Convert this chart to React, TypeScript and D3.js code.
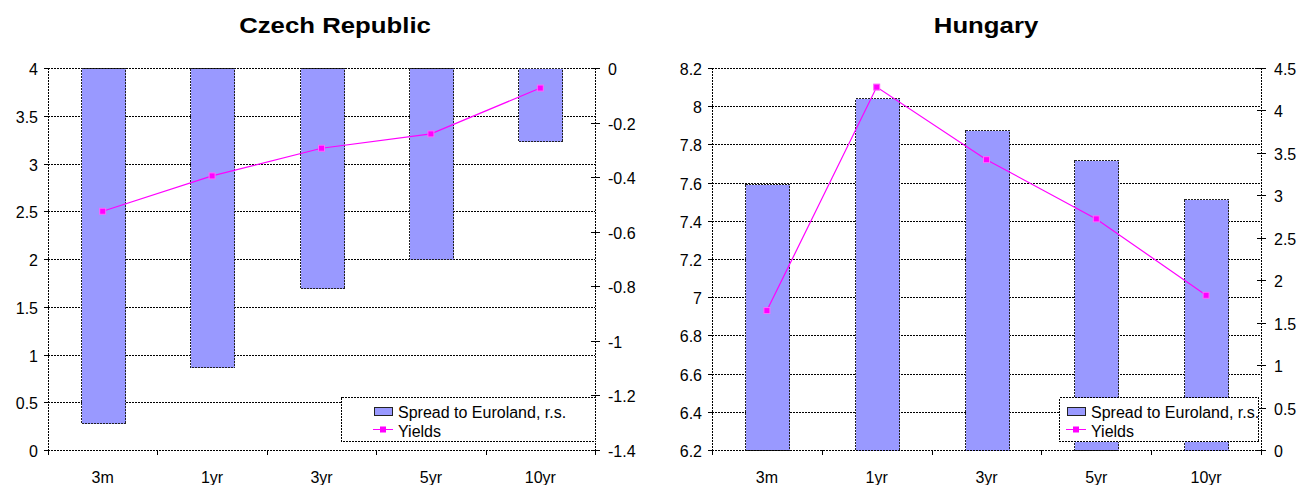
import { useRef, useEffect } from "react";
import * as d3 from "d3";

const categories = ["3m", "1yr", "3yr", "5yr", "10yr"];

const czechSpread = [-1.3, -1.096, -0.806, -0.7, -0.267];
const czechYields = [2.5, 2.87, 3.16, 3.31, 3.79];
const czechLeftTicks = [0, 0.5, 1, 1.5, 2, 2.5, 3, 3.5, 4];
const czechRightTicks = [0, -0.2, -0.4, -0.6, -0.8, -1, -1.2, -1.4];

const hungarySpread = [3.13, 4.15, 3.77, 3.42, 2.96];
const hungaryYields = [6.93, 8.1, 7.72, 7.41, 7.01];
const hungaryLeftTicks = [6.2, 6.4, 6.6, 6.8, 7, 7.2, 7.4, 7.6, 7.8, 8, 8.2];
const hungaryRightTicks = [0, 0.5, 1, 1.5, 2, 2.5, 3, 3.5, 4, 4.5];

const FONT = "'Liberation Sans', Arial, sans-serif";

interface PanelOpts {
  title: string;
  titleX: number;
  x0: number;
  x1: number;
  spread: number[];
  yields: number[];
  leftDomain: [number, number];
  rightDomain: [number, number];
  leftTicks: number[];
  rightTicks: number[];
  legendX: number;
  legendW: number;
  swatchX: number;
}

function drawPanel(svg: d3.Selection<SVGSVGElement, unknown, null, undefined>, o: PanelOpts) {
  const top = 68;
  const bottom = 450;
  const g = svg.append("g");

  const x = d3.scaleBand<string>().domain(categories).range([o.x0, o.x1]).padding(0);
  const yL = d3.scaleLinear().domain(o.leftDomain).range([bottom, top]);
  const yR = d3.scaleLinear().domain(o.rightDomain).range([bottom, top]);
  const barW = x.bandwidth() * 0.4;

  // title (stretched a little, like the original)
  g.append("text")
    .attr("transform", `translate(${o.titleX},33) scale(1.12,1)`)
    .attr("text-anchor", "middle")
    .attr("font-family", FONT)
    .attr("font-weight", "bold")
    .attr("font-size", 23)
    .text(o.title);

  // gridlines
  g.selectAll(".grid")
    .data(o.leftTicks)
    .join("line")
    .attr("x1", o.x0)
    .attr("x2", o.x1)
    .attr("y1", (d) => Math.round(yL(d)) + 0.5)
    .attr("y2", (d) => Math.round(yL(d)) + 0.5)
    .attr("stroke", "#000")
    .attr("stroke-dasharray", "2,1")
    .attr("shape-rendering", "crispEdges");

  // bars (right scale, from 0)
  const zero = yR(0);
  g.selectAll(".bar")
    .data(o.spread)
    .join("rect")
    .attr("x", (_, i) => Math.round(x(categories[i])! + (x.bandwidth() - barW) / 2) + 0.5)
    .attr("width", Math.round(barW))
    .attr("y", (d) => Math.round(Math.min(zero, yR(d))) + 0.5)
    .attr("height", (d) => Math.round(Math.abs(yR(d) - zero)))
    .attr("fill", "#9999ff")
    .attr("stroke", "#222")
    .attr("stroke-dasharray", "2,1")
    .attr("shape-rendering", "crispEdges");

  // left axis
  g.append("line")
    .attr("x1", o.x0 + 0.5).attr("x2", o.x0 + 0.5)
    .attr("y1", top).attr("y2", bottom)
    .attr("stroke", "#000").attr("stroke-dasharray", "2,1")
    .attr("shape-rendering", "crispEdges");
  o.leftTicks.forEach((t) => {
    const yy = Math.round(yL(t)) + 0.5;
    g.append("line").attr("x1", o.x0 - 4).attr("x2", o.x0).attr("y1", yy).attr("y2", yy).attr("stroke", "#000");
    g.append("text")
      .attr("x", o.x0 - 10)
      .attr("y", yy + 6)
      .attr("text-anchor", "end")
      .attr("font-family", FONT)
      .attr("font-size", 16)
      .text(String(t));
  });

  // right axis
  g.append("line")
    .attr("x1", o.x1 + 0.5).attr("x2", o.x1 + 0.5)
    .attr("y1", top).attr("y2", bottom)
    .attr("stroke", "#000").attr("stroke-dasharray", "2,1")
    .attr("shape-rendering", "crispEdges");
  o.rightTicks.forEach((t) => {
    const yy = Math.round(yR(t)) + 0.5;
    g.append("line").attr("x1", o.x1 - 4).attr("x2", o.x1 + 5).attr("y1", yy).attr("y2", yy).attr("stroke", "#000");
    g.append("text")
      .attr("x", o.x1 + 13)
      .attr("y", yy + 6)
      .attr("font-family", FONT)
      .attr("font-size", 16)
      .text(String(t));
  });

  // x axis
  g.append("line")
    .attr("x1", o.x0).attr("x2", o.x1)
    .attr("y1", bottom + 0.5).attr("y2", bottom + 0.5)
    .attr("stroke", "#000").attr("stroke-dasharray", "2,1")
    .attr("shape-rendering", "crispEdges");
  categories.forEach((c, i) => {
    const bx = Math.round(x(c)!) + 0.5;
    g.append("line").attr("x1", bx).attr("x2", bx).attr("y1", bottom).attr("y2", bottom + 5).attr("stroke", "#000");
    if (i === categories.length - 1) {
      g.append("line").attr("x1", o.x1 + 0.5).attr("x2", o.x1 + 0.5).attr("y1", bottom).attr("y2", bottom + 5).attr("stroke", "#000");
    }
    g.append("text")
      .attr("x", x(c)! + x.bandwidth() / 2)
      .attr("y", 483)
      .attr("text-anchor", "middle")
      .attr("font-family", FONT)
      .attr("font-size", 16)
      .text(c);
  });

  // yields line (left scale)
  const line = d3
    .line<number>()
    .x((_, i) => x(categories[i])! + x.bandwidth() / 2)
    .y((d) => yL(d));
  g.append("path")
    .attr("d", line(o.yields)!)
    .attr("fill", "none")
    .attr("stroke", "#ff00ff")
    .attr("stroke-width", 1.2);
  g.selectAll(".pt")
    .data(o.yields)
    .join("rect")
    .attr("x", (_, i) => x(categories[i])! + x.bandwidth() / 2 - 3)
    .attr("y", (d) => yL(d) - 3)
    .attr("width", 6)
    .attr("height", 6)
    .attr("fill", "#ff00ff")
    .attr("stroke", "#ff66ff");

  // legend
  const ly = 397;
  const lg = g.append("g");
  lg.append("rect")
    .attr("x", o.legendX + 0.5)
    .attr("y", ly + 0.5)
    .attr("width", o.legendW)
    .attr("height", 44)
    .attr("fill", "#fff")
    .attr("stroke", "#000")
    .attr("stroke-dasharray", "2,1")
    .attr("shape-rendering", "crispEdges");
  const sx = o.legendX + o.swatchX;
  lg.append("rect")
    .attr("x", sx + 0.5)
    .attr("y", ly + 10.5)
    .attr("width", 18)
    .attr("height", 8)
    .attr("fill", "#9999ff")
    .attr("stroke", "#222");
  lg.append("text")
    .attr("x", sx + 24)
    .attr("y", ly + 21)
    .attr("font-family", FONT)
    .attr("font-size", 16)
    .text("Spread to Euroland, r.s.");
  lg.append("line")
    .attr("x1", sx - 1)
    .attr("x2", sx + 19)
    .attr("y1", ly + 32.5)
    .attr("y2", ly + 32.5)
    .attr("stroke", "#ff00ff");
  lg.append("rect")
    .attr("x", sx + 6)
    .attr("y", ly + 29.5)
    .attr("width", 6)
    .attr("height", 6)
    .attr("fill", "#ff00ff");
  lg.append("text")
    .attr("x", sx + 24)
    .attr("y", ly + 40)
    .attr("font-family", FONT)
    .attr("font-size", 16)
    .text("Yields");
}

export default function App() {
  const svgRef = useRef<SVGSVGElement>(null);

  useEffect(() => {
    if (!svgRef.current) return;
    const svg = d3.select(svgRef.current);
    svg.selectAll("*").remove();

    drawPanel(svg, {
      title: "Czech Republic",
      titleX: 335,
      x0: 48,
      x1: 595,
      spread: czechSpread,
      yields: czechYields,
      leftDomain: [0, 4],
      rightDomain: [-1.4, 0],
      leftTicks: czechLeftTicks,
      rightTicks: czechRightTicks,
      legendX: 341,
      legendW: 254,
      swatchX: 33,
    });

    drawPanel(svg, {
      title: "Hungary",
      titleX: 986,
      x0: 712,
      x1: 1261,
      spread: hungarySpread,
      yields: hungaryYields,
      leftDomain: [6.2, 8.2],
      rightDomain: [0, 4.5],
      leftTicks: hungaryLeftTicks,
      rightTicks: hungaryRightTicks,
      legendX: 1059,
      legendW: 199,
      swatchX: 8,
    });
  }, []);

  return (
    <svg
      ref={svgRef}
      width={1308}
      height={485}
      style={{ position: "absolute", left: 0, top: 0, background: "#fff" }}
    />
  );
}
